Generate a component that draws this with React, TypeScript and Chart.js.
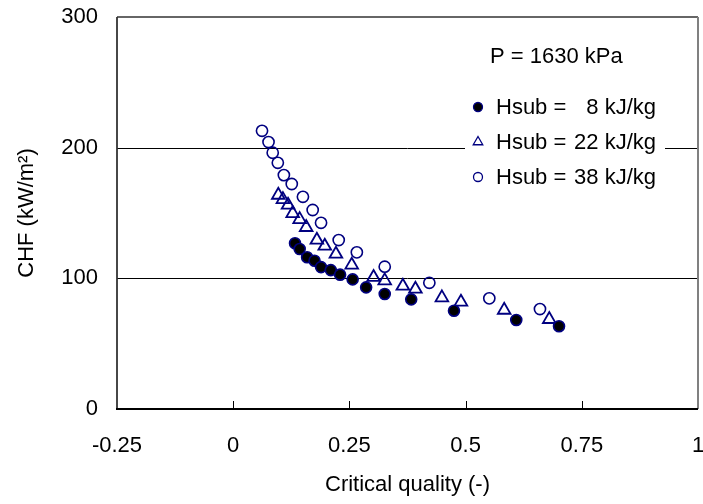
import React, { useEffect, useRef } from 'react';
import { Chart, registerables } from 'chart.js';

Chart.register(...registerables);

// ---- data ----
const xTicks = [-0.25, 0, 0.25, 0.5, 0.75, 1];
const yTicks = [0, 100, 200, 300];

const hsub8X = [0.133, 0.143, 0.159, 0.175, 0.189, 0.21, 0.23, 0.257, 0.286, 0.326, 0.383, 0.475, 0.609, 0.701];
const hsub8Y = [126.8, 122.4, 116.1, 113.5, 108.6, 106.3, 102.8, 99.2, 93.1, 88.0, 83.9, 75.2, 68.1, 63.3];

const hsub22X = [0.097, 0.107, 0.118, 0.128, 0.143, 0.157, 0.18, 0.197, 0.221, 0.255, 0.302, 0.326, 0.365, 0.392, 0.449, 0.49, 0.583, 0.68];
const hsub22Y = [163.7, 160.4, 156.1, 149.7, 145.1, 139.0, 129.3, 124.7, 118.6, 110.2, 100.8, 98.2, 94.1, 91.8, 85.2, 81.9, 75.7, 68.6];

const hsub38X = [0.062, 0.076, 0.085, 0.096, 0.109, 0.126, 0.15, 0.171, 0.189, 0.227, 0.266, 0.326, 0.422, 0.551, 0.66];
const hsub38Y = [212.9, 204.3, 196.1, 188.4, 179.0, 172.2, 162.4, 152.3, 142.5, 129.3, 119.9, 108.9, 96.6, 84.7, 76.5];

const pressureLabel = 'P = 1630 kPa';
const legendPrefix = 'Hsub =';
const legendValues = ['8 kJ/kg', '22 kJ/kg', '38 kJ/kg'];
const xTitle = 'Critical quality (-)';
const yTitle = 'CHF (kW/m\u00B2)';

const NAVY = '#000080';
const FONT = "'Liberation Sans', Arial, sans-serif";

const toPoints = (xs: number[], ys: number[]) => xs.map((x, i) => ({ x, y: ys[i] }));

const zeroPadding = (s: any) => {
  s.paddingTop = 0;
  s.paddingBottom = 0;
  s.paddingLeft = 0;
  s.paddingRight = 0;
};

const framePlugin = {
  id: 'frame',
  beforeDatasetsDraw(chart: any) {
    const { ctx, chartArea: a, scales } = chart;
    const x = scales.x;
    const y = scales.y;
    ctx.save();
    // horizontal gridlines
    ctx.strokeStyle = '#000';
    ctx.lineWidth = 1;
    yTicks.forEach((v) => {
      if (v === yTicks[0] || v === yTicks[yTicks.length - 1]) return;
      const py = Math.round(y.getPixelForValue(v)) + 0.5;
      ctx.beginPath();
      ctx.moveTo(a.left, py);
      ctx.lineTo(a.right, py);
      ctx.stroke();
    });
    // legend background box
    ctx.fillStyle = '#fff';
    ctx.fillRect(a.left + 348, a.top + 10, 200, 170);
    // x tick marks (inside)
    ctx.strokeStyle = '#000';
    ctx.lineWidth = 1;
    xTicks.forEach((v) => {
      if (v === xTicks[0] || v === xTicks[xTicks.length - 1]) return;
      const px = Math.round(x.getPixelForValue(v)) + 0.5;
      ctx.beginPath();
      ctx.moveTo(px, a.bottom);
      ctx.lineTo(px, a.bottom - 8);
      ctx.stroke();
    });
    // frame
    ctx.lineWidth = 1.5;
    ctx.strokeStyle = '#333';
    ctx.beginPath();
    ctx.moveTo(a.left, a.top);
    ctx.lineTo(a.right, a.top);
    ctx.stroke();
    ctx.strokeStyle = '#808080';
    ctx.lineWidth = 2;
    ctx.beginPath();
    ctx.moveTo(a.right, a.top);
    ctx.lineTo(a.right, a.bottom);
    ctx.stroke();
    ctx.strokeStyle = '#333';
    ctx.lineWidth = 1.8;
    ctx.beginPath();
    ctx.moveTo(a.left, a.top);
    ctx.lineTo(a.left, a.bottom);
    ctx.stroke();
    ctx.strokeStyle = '#000';
    ctx.beginPath();
    ctx.moveTo(a.left - 1, a.bottom);
    ctx.lineTo(a.right, a.bottom);
    ctx.stroke();
    ctx.restore();
  },
  afterDatasetsDraw(chart: any) {
    const { ctx, chartArea: a } = chart;
    ctx.save();
    ctx.font = `22px ${FONT}`;
    ctx.fillStyle = '#000';
    ctx.textBaseline = 'alphabetic';
    ctx.textAlign = 'left';
    const lx = a.left + 373;
    ctx.fillText(pressureLabel, lx, a.top + 46);
    const textL = a.left + 379;
    const textR = a.left + 539;
    const mx = a.left + 361;
    const rows = [a.top + 97, a.top + 132, a.top + 167];
    rows.forEach((by, i) => {
      ctx.textAlign = 'left';
      ctx.fillText(legendPrefix, textL, by);
      ctx.textAlign = 'right';
      ctx.fillText(legendValues[i], textR, by);
      const cy = by - 7;
      ctx.lineWidth = 1.3;
      ctx.strokeStyle = NAVY;
      ctx.beginPath();
      if (i === 0) {
        ctx.arc(mx, cy, 4.5, 0, Math.PI * 2);
        ctx.fillStyle = '#000';
        ctx.fill();
        ctx.stroke();
      } else if (i === 1) {
        const r = 5.5;
        ctx.moveTo(mx, cy - r);
        ctx.lineTo(mx + r * 0.866, cy + r * 0.5);
        ctx.lineTo(mx - r * 0.866, cy + r * 0.5);
        ctx.closePath();
        ctx.stroke();
      } else {
        ctx.arc(mx, cy, 4.5, 0, Math.PI * 2);
        ctx.stroke();
      }
      ctx.fillStyle = '#000';
    });
    ctx.restore();
  },
};

export default function App() {
  const ref = useRef<HTMLCanvasElement | null>(null);
  useEffect(() => {
    if (!ref.current) return;
    const chart = new Chart(ref.current, {
      type: 'scatter',
      data: {
        datasets: [
          {
            label: legendValues[0],
            data: toPoints(hsub8X, hsub8Y),
            pointStyle: 'circle',
            pointRadius: 5.5,
            pointBorderWidth: 1.6,
            borderColor: NAVY,
            backgroundColor: '#000',
          },
          {
            label: legendValues[1],
            data: toPoints(hsub22X, hsub22Y),
            pointStyle: 'triangle',
            pointRadius: 7.3,
            pointBorderWidth: 1.8,
            borderColor: NAVY,
            backgroundColor: 'rgba(0,0,0,0)',
          },
          {
            label: legendValues[2],
            data: toPoints(hsub38X, hsub38Y),
            pointStyle: 'circle',
            pointRadius: 5.6,
            pointBorderWidth: 1.6,
            borderColor: NAVY,
            backgroundColor: 'rgba(0,0,0,0)',
          },
        ],
      },
      options: {
        animation: false,
        responsive: false,
        layout: { autoPadding: false, padding: { top: 17, right: 5, left: 0, bottom: 0 } },
        plugins: { legend: { display: false }, tooltip: { enabled: false } },
        events: [],
        scales: {
          x: {
            type: 'linear',
            min: xTicks[0],
            max: xTicks[xTicks.length - 1],
            afterBuildTicks: (s: any) => {
              s.ticks = xTicks.map((v) => ({ value: v }));
            },
            afterFit: (s: any) => {
              s.height = 95;
              zeroPadding(s);
            },
            grid: { display: false, drawTicks: false },
            border: { display: false },
            ticks: {
              padding: 24,
              color: '#000',
              font: { family: FONT, size: 22 },
              maxRotation: 0,
              autoSkip: false,
              callback: (v: any) => String(v),
            },
            title: {
              display: true,
              text: xTitle,
              color: '#000',
              font: { family: FONT, size: 22 },
              padding: { top: 0, bottom: 6 },
            },
          },
          y: {
            type: 'linear',
            min: yTicks[0],
            max: yTicks[yTicks.length - 1],
            afterBuildTicks: (s: any) => {
              s.ticks = yTicks.map((v) => ({ value: v }));
            },
            afterFit: (s: any) => {
              s.width = 117;
              zeroPadding(s);
            },
            grid: { display: false, drawTicks: false },
            border: { display: false },
            ticks: {
              padding: 19,
              color: '#000',
              font: { family: FONT, size: 22 },
              callback: (v: any) => String(v),
            },
            title: {
              display: true,
              text: yTitle,
              color: '#000',
              font: { family: FONT, size: 22 },
              padding: { top: 14, bottom: 0 },
            },
          },
        },
      },
      plugins: [framePlugin],
    });
    return () => chart.destroy();
  }, []);
  return (
    <div style={{ position: 'absolute', left: 0, top: 0, width: 703, height: 504, background: '#fff' }}>
      <canvas ref={ref} width={703} height={504} style={{ display: 'block' }} />
    </div>
  );
}
